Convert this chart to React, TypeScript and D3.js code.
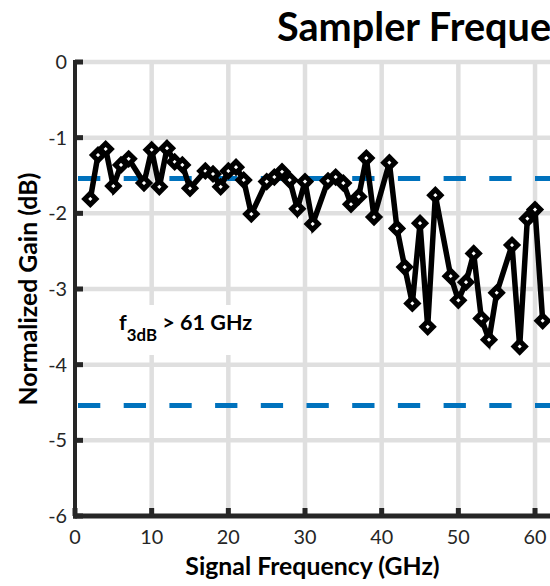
import React, { useMemo } from "react";
import * as d3 from "d3";

const freqs = [2,3,4,5,6,7,9,10,11,12,13,14,15,17,18,19,20,21,22,23,25,26,27,28,29,30,31,33,34,35,36,37,38,39,41,42,43,44,45,46,47,49,50,51,52,53,54,55,57,58,59,60,61];
const gains = [-1.81,-1.23,-1.15,-1.64,-1.36,-1.28,-1.60,-1.16,-1.65,-1.14,-1.32,-1.36,-1.67,-1.44,-1.48,-1.65,-1.44,-1.39,-1.56,-2.01,-1.58,-1.52,-1.45,-1.56,-1.94,-1.58,-2.14,-1.57,-1.52,-1.60,-1.88,-1.78,-1.27,-2.05,-1.33,-2.20,-2.71,-3.19,-2.13,-3.50,-1.76,-2.83,-3.15,-2.91,-2.53,-3.39,-3.67,-3.05,-2.42,-3.76,-2.07,-1.95,-3.42];
const refLevels = [-1.54, -4.54];
const xTicks = [0, 10, 20, 30, 40, 50, 60];
const yTicks = [0, -1, -2, -3, -4, -5, -6];
const title = "Sampler Frequency Response";
const xLabel = "Signal Frequency (GHz)";
const yLabel = "Normalized Gain (dB)";
const annoMain = "f";
const annoSub = "3dB";
const annoRest = " > 61 GHz";

const FONT = "Lato, 'Open Sans', sans-serif";

function measure(text: string, weight: string, size: number): number {
  if (typeof document === "undefined") return text.length * size * 0.5;
  const c = document.createElement("canvas");
  const ctx = c.getContext("2d");
  if (!ctx) return text.length * size * 0.5;
  ctx.font = `${weight} ${size}px Lato`;
  return ctx.measureText(text).width;
}
function fitSize(text: string, weight: string, target: number) {
  return (100 * target) / measure(text, weight, 100);
}

export default function App() {
  const W = 550, H = 586;
  const x = d3.scaleLinear().domain([0, 62]).range([75, 75 + 62 * 7.667]);
  const y = d3.scaleLinear().domain([-6, 0]).range([516, 62]);
  const data = freqs.map((f, i) => [f, gains[i]] as [number, number]);
  const line = d3.line<[number, number]>().x(d => x(d[0])).y(d => y(d[1]));

  const sizes = useMemo(() => ({
    title: fitSize("Sampler Freque", "bold", 275),
    label: fitSize(xLabel, "bold", 255),
    tick: fitSize("10", "normal", 23),
    anno: fitSize("> 61 GHz", "bold", 90),
  }), []);

  const r = 5.6;
  const diamond = `M0,${-r}L${r},0L0,${r}L${-r},0Z`;
  const gridColor = "#dfdfdf";
  const axisColor = "#262626";

  return (
    <div style={{ position: "absolute", left: 0, top: 0, width: W, height: H, overflow: "hidden", background: "#fff" }}>
      <svg width={W} height={H} style={{ display: "block" }} fontFamily={FONT}>
        <rect width={W} height={H} fill="#fff" />
        {/* grid */}
        {xTicks.filter(t => t > 0).map(t => (
          <line key={"gx" + t} x1={x(t)} x2={x(t)} y1={y(0)} y2={y(-6)} stroke={gridColor} strokeWidth={4.5} />
        ))}
        {yTicks.filter(t => t > -6).map(t => (
          <line key={"gy" + t} x1={x(0)} x2={W} y1={y(t)} y2={y(t)} stroke={gridColor} strokeWidth={4.5} />
        ))}
        {/* annotation background */}
        <rect x={110} y={305} width={156} height={50} fill="#fff" />
        <text x={119} y={330} fontWeight="bold" fontSize={sizes.anno} fill="#000">
          <tspan>{annoMain}</tspan>
          <tspan dy={11} fontSize={sizes.anno * 0.78}>{annoSub}</tspan>
          <tspan dy={-11}>{annoRest}</tspan>
        </text>
        {/* reference dashed lines */}
        {refLevels.map(v => (
          <line key={"ref" + v} x1={78} x2={W} y1={y(v)} y2={y(v)} stroke="#0072BD" strokeWidth={5} strokeDasharray="22.3,23.4" />
        ))}
        {/* axes */}
        <line x1={x(0)} x2={x(0)} y1={y(0) - 2} y2={y(-6) + 2.5} stroke={axisColor} strokeWidth={4} />
        <line x1={x(0) - 2} x2={W} y1={y(-6)} y2={y(-6)} stroke={axisColor} strokeWidth={5} />
        {yTicks.map(t => (
          <line key={"ty" + t} x1={x(0)} x2={x(0) + 8} y1={y(t)} y2={y(t)} stroke={axisColor} strokeWidth={5} />
        ))}
        {xTicks.map(t => (
          <line key={"tx" + t} x1={x(t)} x2={x(t)} y1={y(-6)} y2={y(-6) - 8} stroke={axisColor} strokeWidth={5} />
        ))}
        {/* tick labels */}
        {xTicks.map(t => (
          <text key={"lx" + t} x={x(t)} y={544} textAnchor="middle" fontSize={sizes.tick} fill="#262626">{t}</text>
        ))}
        {yTicks.map(t => (
          <text key={"ly" + t} x={67} y={y(t)} dy="0.35em" textAnchor="end" fontSize={sizes.tick} fill="#262626">{t}</text>
        ))}
        {/* data */}
        <path d={line(data) || ""} fill="none" stroke="#000" strokeWidth={5.5} strokeLinejoin="miter" />
        {data.map((d, i) => (
          <path key={"m" + i} d={diamond} transform={`translate(${x(d[0])},${y(d[1])})`} fill="#fff" stroke="#000" strokeWidth={5} />
        ))}
        {/* labels */}
        <text x={312.5} y={575} textAnchor="middle" fontWeight="bold" fontSize={sizes.label} fill="#000">{xLabel}</text>
        <text transform={`translate(37,${(y(0) + y(-6)) / 2}) rotate(-90)`} textAnchor="middle" fontWeight="bold" fontSize={sizes.label} fill="#000">{yLabel}</text>
        <text x={277} y={41} fontWeight="bold" fontSize={sizes.title} fill="#000">{title}</text>
      </svg>
    </div>
  );
}
